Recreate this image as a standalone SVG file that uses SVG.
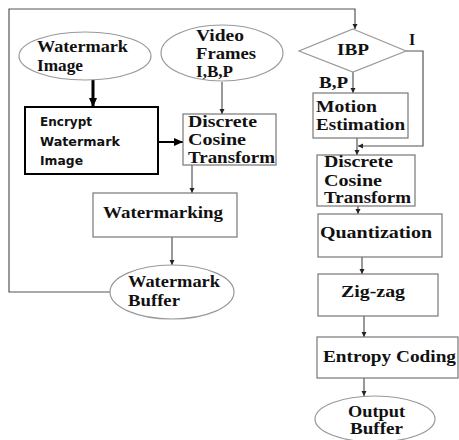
<svg xmlns="http://www.w3.org/2000/svg" width="459" height="440" viewBox="0 0 459 440">
<style>
.t{font-family:"Liberation Serif","Times New Roman",serif;font-weight:bold;font-size:16px;fill:#111}
.s{font-family:"DejaVu Sans","Liberation Sans",sans-serif;font-weight:bold;font-size:12px;fill:#111}
.box{fill:#fff;stroke:#777;stroke-width:1.2}
.ell{fill:#fff;stroke:#999;stroke-width:1.2}
.c{fill:none;stroke:#555;stroke-width:1.2}
.k{fill:none;stroke:#000;stroke-width:2}
</style>
<defs>
<marker id="a" markerWidth="6" markerHeight="6" refX="5" refY="3" orient="auto" markerUnits="userSpaceOnUse">
<path d="M0,0.5 L5,3 L0,5.5 Z" fill="#222"/>
</marker>
<marker id="b" markerWidth="10" markerHeight="10" refX="9" refY="5" orient="auto" markerUnits="userSpaceOnUse">
<path d="M0,1 L9,5 L0,9 Z" fill="#000"/>
</marker>
</defs>
<rect width="459" height="440" fill="#fff"/>
<g id="connectors">
<polyline class="c" points="110,292 9,292 9,9 355,9 355,29" marker-end="url(#a)"/>
<line x1="93" y1="80" x2="93" y2="107" stroke="#000" stroke-width="3" marker-end="url(#b)"/>
<line class="k" x1="158" y1="142" x2="183" y2="142" marker-end="url(#b)"/>
<line class="c" x1="222" y1="82" x2="222" y2="114" marker-end="url(#a)"/>
<line class="c" x1="192" y1="165" x2="192" y2="193" marker-end="url(#a)"/>
<line class="c" x1="172" y1="237" x2="172" y2="265" marker-end="url(#a)"/>
<line class="c" x1="353" y1="72" x2="353" y2="93" marker-end="url(#a)"/>
<polyline class="c" points="406,51 423,51 423,146 358,146" marker-end="url(#a)"/>
<line class="c" x1="357" y1="138" x2="357" y2="155" marker-end="url(#a)"/>
<line class="c" x1="358" y1="206" x2="358" y2="214" marker-end="url(#a)"/>
<line class="c" x1="362" y1="257" x2="362" y2="274" marker-end="url(#a)"/>
<line class="c" x1="364" y1="316" x2="364" y2="337" marker-end="url(#a)"/>
<line class="c" x1="364" y1="378" x2="364" y2="396" marker-end="url(#a)"/>
</g>
<g id="watermark-image">
<ellipse class="ell" cx="85" cy="56" rx="66" ry="24"/>
<text class="t" x="37" y="52" textLength="91" lengthAdjust="spacingAndGlyphs">Watermark</text>
<text class="t" x="37" y="71" textLength="46" lengthAdjust="spacingAndGlyphs">Image</text>
</g>
<g id="encrypt">
<rect x="25" y="107" width="133" height="67" fill="#fff" stroke="#000" stroke-width="2"/>
<text class="s" x="40" y="126" textLength="52" lengthAdjust="spacingAndGlyphs">Encrypt</text>
<text class="s" x="40" y="146" textLength="80" lengthAdjust="spacingAndGlyphs">Watermark</text>
<text class="s" x="40" y="165" textLength="43" lengthAdjust="spacingAndGlyphs">Image</text>
</g>
<g id="video-frames">
<ellipse class="ell" cx="222" cy="53" rx="61" ry="28"/>
<text class="t" x="196" y="41" textLength="48" lengthAdjust="spacingAndGlyphs">Video</text>
<text class="t" x="196" y="59" textLength="60" lengthAdjust="spacingAndGlyphs">Frames</text>
<text class="t" x="196" y="77" textLength="37" lengthAdjust="spacingAndGlyphs">I,B,P</text>
</g>
<g id="dct1">
<rect class="box" x="183" y="114" width="93" height="51"/>
<text class="t" x="188" y="127" textLength="69" lengthAdjust="spacingAndGlyphs">Discrete</text>
<text class="t" x="188" y="145" textLength="58" lengthAdjust="spacingAndGlyphs">Cosine</text>
<text class="t" x="188" y="163" textLength="87" lengthAdjust="spacingAndGlyphs">Transform</text>
</g>
<g id="watermarking">
<rect class="box" x="93" y="193" width="144" height="44"/>
<text class="t" x="103" y="218" textLength="120" lengthAdjust="spacingAndGlyphs">Watermarking</text>
</g>
<g id="watermark-buffer">
<ellipse class="ell" cx="172" cy="292" rx="62" ry="27"/>
<text class="t" x="128" y="287" textLength="92" lengthAdjust="spacingAndGlyphs">Watermark</text>
<text class="t" x="128" y="306" textLength="52" lengthAdjust="spacingAndGlyphs">Buffer</text>
</g>
<g id="ibp">
<polygon points="353,29 406,51 353,72 299,51" fill="#fff" stroke="#999" stroke-width="1.2"/>
<text class="t" x="337" y="55" textLength="32" lengthAdjust="spacingAndGlyphs">IBP</text>
<text class="t" x="409" y="45">I</text>
<text class="t" x="319" y="88" textLength="29" lengthAdjust="spacingAndGlyphs">B,P</text>
</g>
<g id="motion">
<rect class="box" x="313" y="93" width="95" height="45"/>
<text class="t" x="316" y="112" textLength="61" lengthAdjust="spacingAndGlyphs">Motion</text>
<text class="t" x="316" y="130" textLength="89" lengthAdjust="spacingAndGlyphs">Estimation</text>
</g>
<g id="dct2">
<rect class="box" x="317" y="155" width="98" height="51"/>
<text class="t" x="324" y="167" textLength="69" lengthAdjust="spacingAndGlyphs">Discrete</text>
<text class="t" x="324" y="186" textLength="58" lengthAdjust="spacingAndGlyphs">Cosine</text>
<text class="t" x="324" y="203" textLength="87" lengthAdjust="spacingAndGlyphs">Transform</text>
</g>
<g id="quantization">
<rect class="box" x="318" y="214" width="124" height="43"/>
<text class="t" x="320" y="238" textLength="112" lengthAdjust="spacingAndGlyphs">Quantization</text>
</g>
<g id="zigzag">
<rect class="box" x="318" y="274" width="120" height="42"/>
<text class="t" x="341" y="297" textLength="64" lengthAdjust="spacingAndGlyphs">Zig-zag</text>
</g>
<g id="entropy">
<rect class="box" x="317" y="337" width="141" height="41"/>
<text class="t" x="323" y="362" textLength="133" lengthAdjust="spacingAndGlyphs">Entropy Coding</text>
</g>
<g id="output-buffer">
<ellipse class="ell" cx="375" cy="419" rx="60" ry="23"/>
<text class="t" x="348" y="417" textLength="57" lengthAdjust="spacingAndGlyphs">Output</text>
<text class="t" x="350" y="434" textLength="53" lengthAdjust="spacingAndGlyphs">Buffer</text>
</g>
</svg>
